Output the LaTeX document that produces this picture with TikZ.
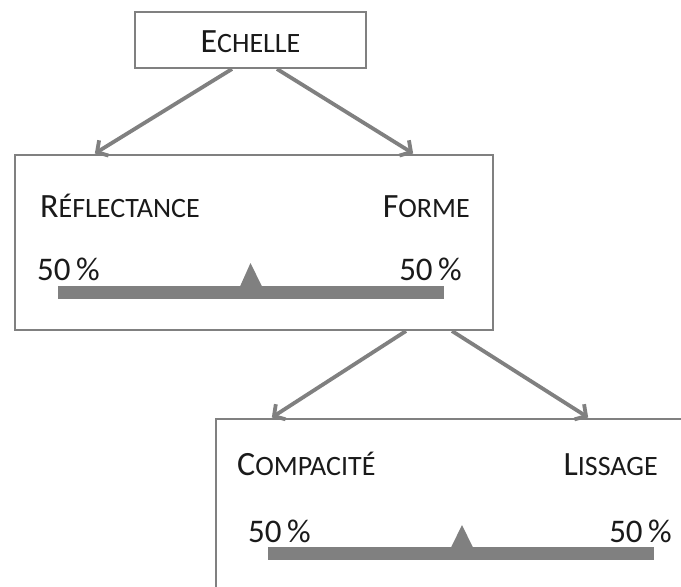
\documentclass[tikz,border=0pt]{standalone}
\usepackage{fontspec}
\setmainfont{Carlito}
\usetikzlibrary{arrows.meta}
\definecolor{lgray}{HTML}{808080}
\definecolor{txt}{HTML}{1A1A1A}
\newcommand\fsc[2]{{\fontsize{34}{34}\selectfont #1}{\fontsize{28}{28}\selectfont #2}}
\newcommand\pct{{\fontsize{33}{33}\selectfont 50\,\%}}
\begin{document}
\begin{tikzpicture}[x=1pt,y=-1pt,
  box/.style={draw=lgray,line width=2pt,fill=white,inner sep=0pt},
  arr/.style={draw=lgray,line width=3.8pt,-{Straight Barb[length=8pt,width=18pt,line width=3.8pt]},shorten >=1pt},
  lab/.style={text=txt,inner sep=0pt},
  bar/.style={fill=lgray,draw=none}]
\clip (0,0) rectangle (681,587);
\fill[white] (0,0) rectangle (681,587);
% boxes
\node[box,minimum width=231pt,minimum height=56pt] (echelle) at (250.5,40) {};
\node[lab] (techelle) at (250.5,42) {\fsc{E}{CHELLE}};
\node[box,minimum width=478pt,minimum height=175pt] (box2) at (254,242.5) {};
\node[box,minimum width=485pt,minimum height=192pt,anchor=north west] (box3) at (215,418) {};
% arrows
\draw[arr] ([xshift=98pt]echelle.south west) -- ([xshift=80pt]box2.north west);
\draw[arr] ([xshift=143pt]echelle.south west) -- ([xshift=400pt]box2.north west);
\draw[arr] ([xshift=392pt]box2.south west) -- ([xshift=56pt]box3.north west);
\draw[arr] ([xshift=438pt]box2.south west) -- ([xshift=374pt]box3.north west);
% box 2 content
\node[lab,anchor=base west] (refl) at (40,217) {\fsc{R}{ÉFLECTANCE}};
\node[lab,anchor=base east] (forme) at (470,217) {\fsc{F}{ORME}};
\node[lab,anchor=base west] (p1) at (37,280) {\pct};
\node[lab,anchor=base east] (p2) at (462,280) {\pct};
\fill[lgray] (58,286) rectangle (444,299);
\fill[lgray] (240,286.5) -- (250.5,263) -- (262,286.5) -- cycle;
% box 3 content
\node[lab,anchor=base west] (comp) at (237,475) {\fsc{C}{OMPACITÉ}};
\node[lab,anchor=base east] (liss) at (658,475) {\fsc{L}{ISSAGE}};
\node[lab,anchor=base west] (p3) at (248,542) {\pct};
\node[lab,anchor=base east] (p4) at (672,542) {\pct};
\fill[lgray] (268,547) rectangle (654,559.5);
\fill[lgray] (451,547.5) -- (462,525) -- (473,547.5) -- cycle;
\end{tikzpicture}
\end{document}
